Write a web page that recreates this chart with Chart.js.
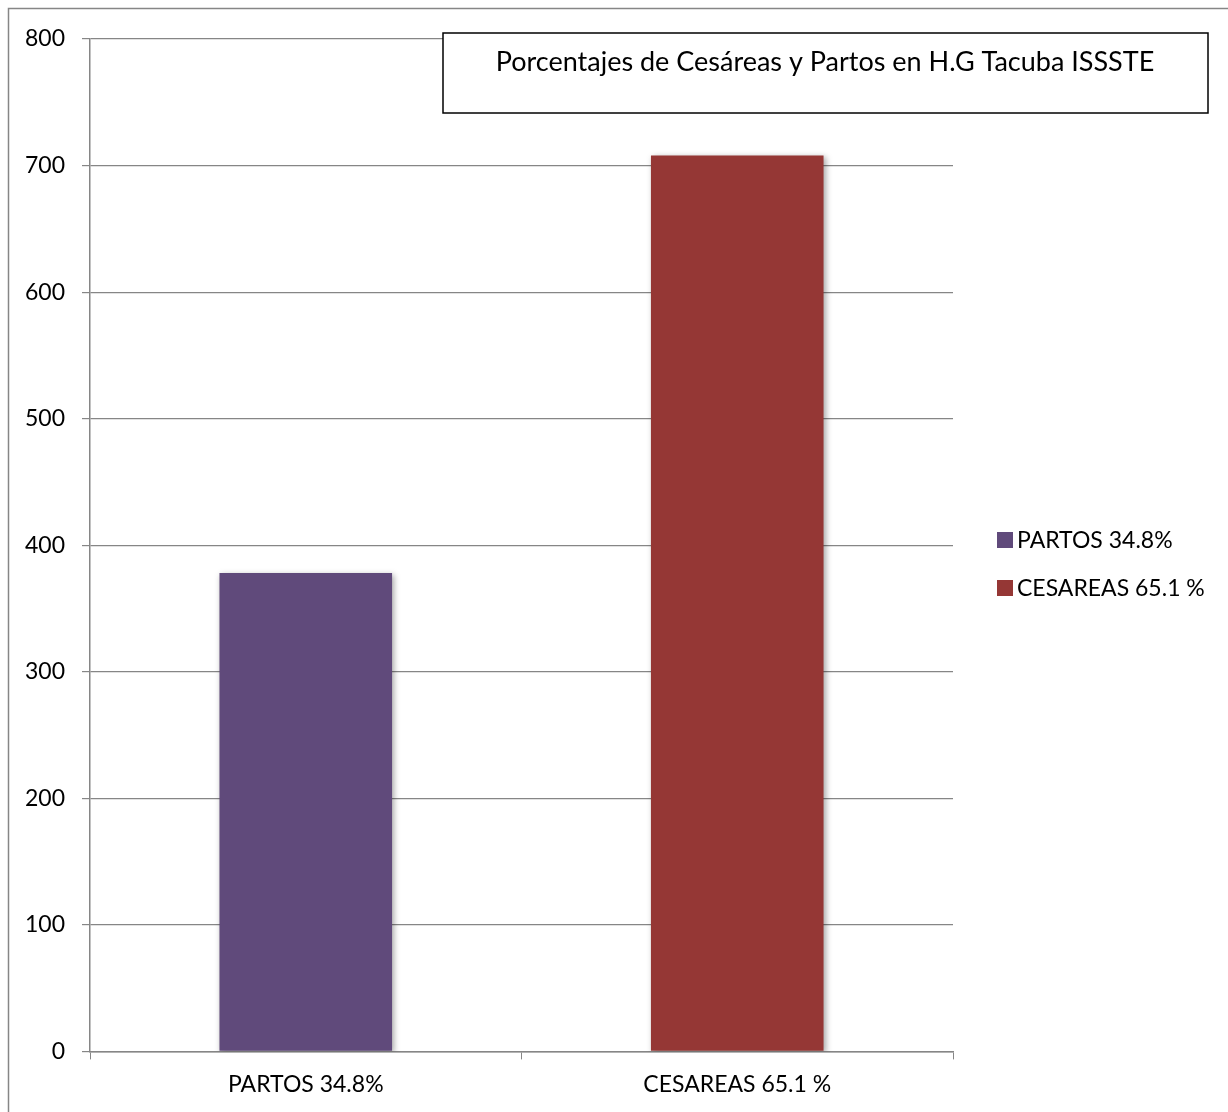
<!DOCTYPE html>
<html>
<head>
<meta charset="utf-8">
<script src="https://cdn.jsdelivr.net/npm/chart.js@4"></script>
<style>
  body { margin: 0; background: #fff; overflow: hidden; }
  #contenitore { width: 1228px; height: 1112px; position: relative; }
</style>
</head>
<body>
<div id="contenitore"><canvas id="grafico"></canvas></div>
<script>
// Dati
const categorie = ['PARTOS 34.8%', 'CESAREAS 65.1 %'];
const etichetteSerie = ['PARTOS 34.8%', 'CESAREAS 65.1 %'];
const valoriPartos = [378, null];
const valoriCesareas = [null, 708];
const coloriSerie = ['#604A7B', '#953735'];
const titolo = 'Porcentajes de Cesáreas y Partos en H.G Tacuba ISSSTE';

const FONT = 'Lato, "Open Sans", sans-serif';
const GRIGIO = '#868686';

// bordo esterno, riquadro titolo e legenda disegnati a mano
const pluginCornice = {
    id: 'cornice',
    beforeDatasetsDraw: (chart) => {
        const ctx = chart.ctx;
        ctx.save();
        ctx.shadowColor = 'rgba(0,0,0,0.35)';
        ctx.shadowBlur = 6;
        ctx.shadowOffsetX = 2;
        ctx.shadowOffsetY = 2;
    },
    afterDatasetsDraw: (chart) => {
        chart.ctx.restore();
    },
    afterDraw: (chart) => {
        const ctx = chart.ctx;
        ctx.save();
        // bordo esterno
        ctx.strokeStyle = GRIGIO;
        ctx.lineWidth = 1.5;
        ctx.strokeRect(8.5, 8.5, 1400, 1300);

        // riquadro titolo
        ctx.fillStyle = '#fff';
        ctx.fillRect(443, 33, 765, 80);
        ctx.strokeStyle = '#000';
        ctx.lineWidth = 1.5;
        ctx.strokeRect(443, 33, 765, 80);
        ctx.fillStyle = '#000';
        ctx.font = '27px ' + FONT;
        ctx.textAlign = 'center';
        ctx.textBaseline = 'middle';
        ctx.fillText(titolo, 825, 62);

        // legenda
        ctx.textAlign = 'left';
        ctx.font = '23px ' + FONT;
        chart.data.datasets.forEach((ds, i) => {
            const y = 540 + i * 48;
            ctx.fillStyle = ds.backgroundColor;
            ctx.fillRect(997, y - 8, 16, 16);
            ctx.fillStyle = '#000';
            ctx.fillText(ds.label, 1017, y + 1);
        });
        ctx.restore();
    }
};

new Chart(document.getElementById('grafico'), {
    type: 'bar',
    data: {
        labels: categorie,
        datasets: [
            { label: etichetteSerie[0], data: valoriPartos, backgroundColor: coloriSerie[0] },
            { label: etichetteSerie[1], data: valoriCesareas, backgroundColor: coloriSerie[1] }
        ]
    },
    options: {
        responsive: true,
        maintainAspectRatio: false,
        animation: false,
        layout: { padding: { left: 8, top: 39, right: 275, bottom: 3 } },
        datasets: { bar: { barPercentage: 0.4, categoryPercentage: 1 } },
        plugins: {
            legend: { display: false },
            title: { display: false },
            tooltip: { enabled: false }
        },
        scales: {
            x: {
                stacked: true,
                grid: { display: true, drawOnChartArea: false, color: GRIGIO, tickLength: 8, offset: true },
                border: { color: GRIGIO, width: 1.5 },
                ticks: { color: '#000', font: { family: FONT, size: 23 }, padding: 11 }
            },
            y: {
                stacked: true,
                min: 0,
                max: 800,
                grid: { color: GRIGIO, lineWidth: 1.2, tickLength: 8 },
                border: { color: GRIGIO, width: 1.5 },
                ticks: { stepSize: 100, color: '#000', font: { family: FONT, size: 23 }, padding: 17 }
            }
        }
    },
    plugins: [pluginCornice]
});
</script>
</body>
</html>
